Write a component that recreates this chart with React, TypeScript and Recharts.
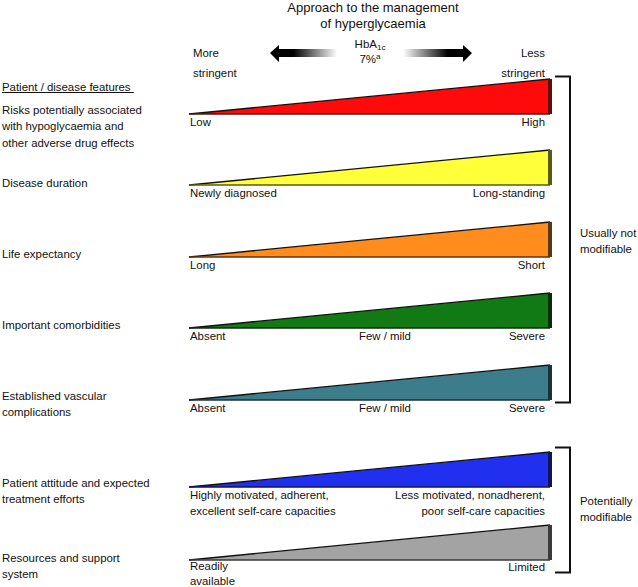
import React from "react";
import { Area, ComposedChart, ReferenceLine, XAxis, YAxis } from "recharts";

// each wedge ramps from the permissive end (0) to the stringent end (1)
const ramp = [
  { x: 0, level: 0 },
  { x: 1, level: 1 }
];

const features = [
  ["Risks potentially associated", "with hypoglycaemia and", "other adverse drug effects"],
  ["Disease duration"],
  ["Life expectancy"],
  ["Important comorbidities"],
  ["Established vascular", "complications"],
  ["Patient attitude and expected", "treatment efforts"],
  ["Resources and support", "system"]
];

const lowLabels = [
  ["Low"],
  ["Newly diagnosed"],
  ["Long"],
  ["Absent"],
  ["Absent"],
  ["Highly motivated, adherent,", "excellent self-care capacities"],
  ["Readily", "available"]
];

const midLabels = ["", "", "", "Few / mild", "Few / mild", "", ""];

const highLabels = [
  ["High"],
  ["Long-standing"],
  ["Short"],
  ["Severe"],
  ["Severe"],
  ["Less motivated, nonadherent,", "poor self-care capacities"],
  ["Limited"]
];

const fills = ["#ff0a0a", "#ffff3a", "#ff8c1c", "#127a14", "#3d7d8b", "#2030ee", "#a3a3a3"];
const edges = ["#5a1208", "#5a5a18", "#5a3612", "#0b2a0b", "#1a3238", "#101450", "#3a3a3a"];

// layout (pixels)
const wedgeTops = [79, 150, 222, 293, 365, 452, 525];
const wedgeH = 35;
const featureY = [110, 183, 254, 325, 396, 483, 558];
const WX = 189;
const WW = 361;

const font = '"Liberation Sans", Arial, sans-serif';

function Lines({ lines, x, y, align = "left", lh = 16.3 }: { lines: string[]; x: number; y: number; align?: string; lh?: number }) {
  const style: React.CSSProperties = {
    position: "absolute",
    top: y - 8,
    lineHeight: lh + "px",
    whiteSpace: "nowrap",
    textAlign: align as any
  };
  if (align === "right") style.right = 638 - x;
  else if (align === "center") {
    style.left = x - 100;
    style.width = 200;
  } else style.left = x;
  return (
    <div style={style}>
      {lines.map((l, i) => (
        <div key={i}>{l}</div>
      ))}
    </div>
  );
}

function Wedge({ i }: { i: number }) {
  return (
    <div style={{ position: "absolute", left: WX, top: wedgeTops[i] - 1 }}>
      <ComposedChart width={WW + 3} height={wedgeH + 2} data={ramp} margin={{ top: 1, right: 3, bottom: 1, left: 0 }}>
        <XAxis type="number" dataKey="x" domain={[0, 1]} hide />
        <YAxis type="number" domain={[0, 1]} hide />
        <Area
          type="linear"
          dataKey="level"
          fill={fills[i]}
          fillOpacity={1}
          stroke="#111"
          strokeWidth={1.3}
          dot={false}
          activeDot={false}
          isAnimationActive={false}
        />
        <ReferenceLine y={0} stroke={edges[i]} strokeWidth={1.5} ifOverflow="visible" />
        <ReferenceLine x={1} stroke={edges[i]} strokeWidth={4} ifOverflow="visible" />
      </ComposedChart>
    </div>
  );
}

export default function App() {
  const last = fills.length - 1;
  return (
    <div
      style={{
        position: "absolute",
        left: 0,
        top: 0,
        width: 638,
        height: 587,
        background: "#fff",
        fontFamily: font,
        fontSize: 11.4,
        color: "#111",
        overflow: "hidden"
      }}
    >
      <div style={{ position: "absolute", left: 273, width: 200, top: 0, textAlign: "center", fontSize: 13, lineHeight: "15.5px" }}>
        <div>Approach to the management</div>
        <div>of hyperglycaemia</div>
      </div>

      <Lines lines={["More"]} x={193} y={53} />
      <Lines lines={["stringent"]} x={193} y={73} />
      <Lines lines={["Less"]} x={545} y={53} align="right" />
      <Lines lines={["stringent"]} x={545} y={73} align="right" />

      <div style={{ position: "absolute", left: 320, width: 100, top: 37, textAlign: "center", lineHeight: "15px", fontSize: 11.5 }}>
        <div style={{ height: 15 }}>
          HbA<sub style={{ fontSize: 8, verticalAlign: "-2px", lineHeight: 0 }}>1c</sub>
        </div>
        <div style={{ height: 15 }}>
          7%<sup style={{ fontSize: 8, verticalAlign: "4px", lineHeight: 0 }}>a</sup>
        </div>
      </div>

      <svg width={638} height={587} style={{ position: "absolute", left: 0, top: 0 }}>
        <defs>
          <linearGradient id="arrL" x1="0" x2="1" y1="0" y2="0">
            <stop offset="0" stopColor="#000" />
            <stop offset="0.35" stopColor="#000" />
            <stop offset="1" stopColor="#fff" />
          </linearGradient>
          <linearGradient id="arrR" x1="0" x2="1" y1="0" y2="0">
            <stop offset="0" stopColor="#fff" />
            <stop offset="0.65" stopColor="#000" />
            <stop offset="1" stopColor="#000" />
          </linearGradient>
        </defs>
        <polygon points="270,53 279,45 279,49 337,49 337,57 279,57 279,62" fill="url(#arrL)" />
        <polygon points="472,53 463,45 463,49 403,49 403,57 463,57 463,62" fill="url(#arrR)" />
        <path d="M555,76.5 L570,76.5 L570,402.5 L555,402.5" fill="none" stroke="#111" strokeWidth={2} />
        <path d="M555,447.5 L570,447.5 L570,572.5 L555,572.5" fill="none" stroke="#111" strokeWidth={2} />
      </svg>

      <div style={{ position: "absolute", left: 2, top: 79, lineHeight: "16px", textDecoration: "underline" }}>
        Patient / disease features&nbsp;
      </div>

      {features.map((f, i) => (
        <Lines key={"f" + i} lines={f} x={2} y={featureY[i]} />
      ))}

      {fills.map((_, i) => (
        <Wedge key={"w" + i} i={i} />
      ))}

      {lowLabels.map((l, i) => (
        <Lines
          key={"l" + i}
          lines={l}
          x={190}
          y={wedgeTops[i] + wedgeH + (i === last ? 7 : 8)}
          lh={i === last ? 14.5 : 16.3}
        />
      ))}
      {midLabels.map((l, i) =>
        l ? <Lines key={"m" + i} lines={[l]} x={385} y={wedgeTops[i] + wedgeH + 8} align="center" /> : null
      )}
      {highLabels.map((l, i) => (
        <Lines key={"h" + i} lines={l} x={545} y={wedgeTops[i] + wedgeH + (i === last ? 7 : 8)} align="right" />
      ))}

      <Lines lines={["Usually not", "modifiable"]} x={580} y={233} />
      <Lines lines={["Potentially", "modifiable"]} x={580} y={501} />
    </div>
  );
}
